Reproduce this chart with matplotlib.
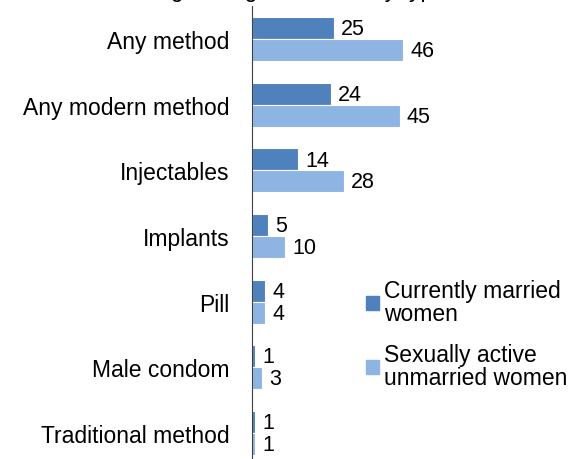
import numpy as np
import matplotlib.pyplot as plt
from matplotlib.patches import Patch

plt.rcParams['font.family'] = ['Liberation Sans', 'DejaVu Sans']

methods = ["Any method", "Any modern method", "Injectables", "Implants",
           "Pill", "Male condom", "Traditional method"]
married = [25, 24, 14, 5, 4, 1, 1]
unmarried = [46, 45, 28, 10, 4, 3, 1]
series_names = ["Currently married\nwomen", "Sexually active\nunmarried women"]

c_dark = "#4F81BD"
c_light = "#8EB4E3"
fs = 16.5
fs_val = 15.5

fig = plt.figure(figsize=[5.84, 4.6], dpi=100)
top_px, bot_px = 7.2, 466.8
ax = fig.add_axes([252/584, 1 - bot_px/460, 332/584, (bot_px - top_px)/460])

y = np.arange(len(methods))
h = 0.335
ax.barh(y - h/2, married, height=h, color=c_dark, edgecolor="white", linewidth=0.8)
ax.barh(y + h/2, unmarried, height=h, color=c_light, edgecolor="white", linewidth=0.8)

for i in range(len(methods)):
    ax.text(married[i] + 2.2, y[i] - h/2 + 0.01, str(married[i]), va="center", ha="left", fontsize=fs_val)
    ax.text(unmarried[i] + 2.2, y[i] + h/2 + 0.01, str(unmarried[i]), va="center", ha="left", fontsize=fs_val)

ax.set_ylim(len(methods) - 0.5, -0.5)
ax.set_xlim(0, 332/3.28)
ax.set_yticks(y)
ax.set_yticklabels(methods, fontsize=fs)
ax.set_xticks([])
ax.tick_params(axis="y", length=0, pad=16)
for s in ["top", "right", "bottom"]:
    ax.spines[s].set_visible(False)
ax.spines["left"].set_color("#404040")
ax.spines["left"].set_linewidth(0.8)

handles = [Patch(color=c_dark), Patch(color=c_light)]
leg = fig.legend(handles, series_names, loc="upper left", bbox_to_anchor=(366/584, 1 - 280/460),
                 frameon=False, fontsize=fs, handlelength=0.57, handleheight=0.57,
                 handletextpad=0.2, labelspacing=0.8, borderaxespad=0, borderpad=0)
for t in leg.get_texts():
    t.set_linespacing(1.0)

# title mostly cut off at the top of the original image
fig.text(0.45, 1 + 3/460, "Percentage using a method, by type", ha="center", va="baseline",
         fontsize=fs)

fig.savefig("out.png", dpi=100)
